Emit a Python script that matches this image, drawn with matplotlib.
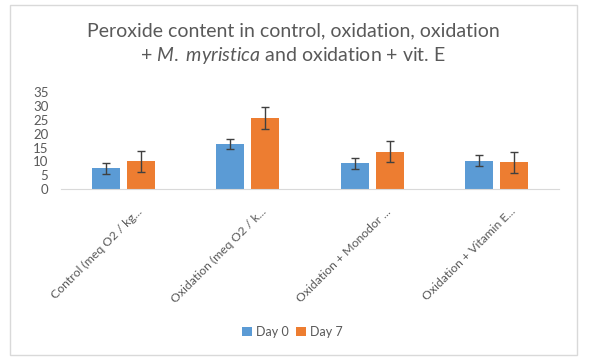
import matplotlib
matplotlib.use('Agg')
import matplotlib.pyplot as plt
import matplotlib.transforms as mtransforms
from matplotlib.patches import Rectangle
import numpy as np

plt.rcParams['font.family'] = ['Lato', 'DejaVu Sans']
plt.rcParams['mathtext.fontset'] = 'custom'
plt.rcParams['mathtext.rm'] = 'Lato'
plt.rcParams['mathtext.it'] = 'Lato:italic'

categories = ['Control (meq O2 / kg...', 'Oxidation (meq O2 / k...',
              'Oxidation + Monodor ...', 'Oxidation + Vitamin E...']
day0 = [7.5, 16.3, 9.4, 10.3]
day0_err = [2.0, 1.9, 2.0, 2.0]
day7 = [10.0, 25.8, 13.4, 9.6]
day7_err = [3.9, 4.0, 3.8, 3.9]
yticks = [0, 5, 10, 15, 20, 25, 30, 35]

blue = '#5B9BD5'
orange = '#ED7D31'
txt = '#595959'

fig = plt.figure(figsize=(5.9, 3.62), dpi=100)
fig.patches.append(Rectangle((9.5/590, 1-355/362), 567/590, 350/362,
                             transform=fig.transFigure, fill=False,
                             edgecolor='#D9D9D9', linewidth=1))
ax = fig.add_axes([61/590, 1-189/362, 498/590, 96.7/362])

x = np.arange(len(categories))
w = 0.225
off = 0.142
ekw = dict(ecolor='#404040', elinewidth=1, capsize=3, capthick=1)
ax.bar(x-off, day0, w, color=blue, label='Day 0', zorder=2, yerr=day0_err, error_kw=ekw)
ax.bar(x+off, day7, w, color=orange, label='Day 7', zorder=2, yerr=day7_err, error_kw=ekw)

ax.set_xlim(-0.5, 3.5)
ax.set_ylim(0, 35)
ax.set_yticks(yticks)
ax.set_xticks(x)
ax.tick_params(axis='both', length=0, colors=txt)
ax.tick_params(axis='y', pad=9, labelsize=9.5)
ax.tick_params(axis='x', labelsize=8.8)
ax.set_xticklabels(categories, rotation=45, ha='right', va='top',
                   rotation_mode='anchor')
# push the slanted labels right/down like the original
offset = mtransforms.ScaledTranslation(13/100, -12/100, fig.dpi_scale_trans)
for lab in ax.get_xticklabels():
    lab.set_transform(lab.get_transform() + offset)
for s in ['top', 'right', 'left']:
    ax.spines[s].set_visible(False)
ax.spines['bottom'].set_color('#D9D9D9')

fig.text(0.497, 1-44/362,
         'Peroxide content in control, oxidation, oxidation\n'
         '+ $\\mathit{M.\\ myristica}$ and oxidation + vit. E',
         ha='center', va='center', fontsize=14, color=txt, linespacing=1.35)

fig.legend(loc='center', bbox_to_anchor=(292/590, 1-332/362), ncol=2,
           frameon=False, fontsize=9, handlelength=0.8, handleheight=0.8,
           handletextpad=0.3, columnspacing=0.6, labelcolor=txt)

fig.savefig('out.png', dpi=100, facecolor='white')
